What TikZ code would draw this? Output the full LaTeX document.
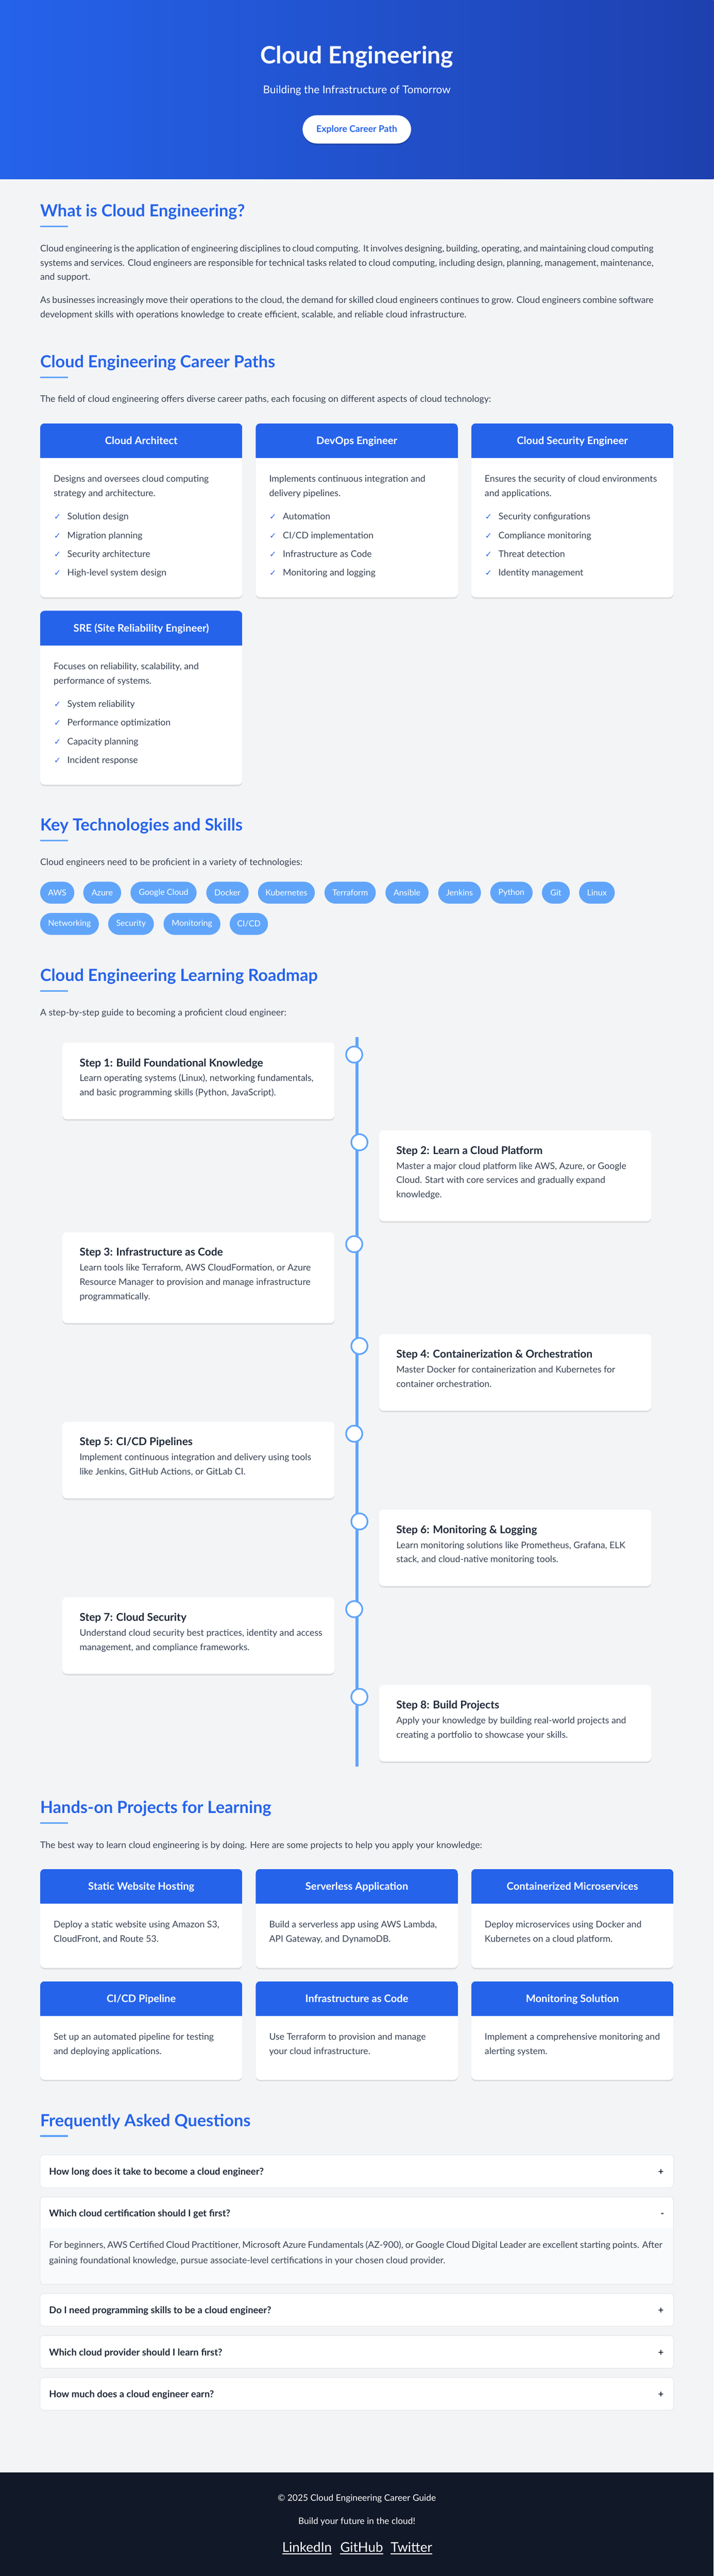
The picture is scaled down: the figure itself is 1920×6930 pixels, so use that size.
\documentclass[tikz,border=0pt]{standalone}
\usepackage{fontspec}
\setmainfont{Lato}
\newfontfamily\symfont{DejaVu Sans}
\usetikzlibrary{shadows}
\definecolor{brand}{HTML}{2563EB}
\definecolor{brandDark}{HTML}{1E40AF}
\definecolor{accent}{HTML}{60A5FA}
\definecolor{pagebg}{HTML}{F3F4F6}
\definecolor{bodytxt}{HTML}{374151}
\definecolor{darktxt}{HTML}{1F2937}
\definecolor{footbg}{HTML}{111827}
\definecolor{faqline}{HTML}{E5E7EB}
\definecolor{ansbg}{HTML}{F9FAFB}
\newcommand{\lines}[1]{\parbox[t]{1650pt}{#1}}
\newcommand{\pathcard}[4]{%
  \fill[white, rounded corners=12pt, cardshadow] (#1,#2) rectangle (#1+544,#4);
  \begin{scope}
    \clip[rounded corners=12pt] (#1,#2) rectangle (#1+544,#4);
    \fill[brand] (#1,#2) rectangle (#1+544,#3);
  \end{scope}}

\begin{document}
\begin{tikzpicture}[x=1pt, y=-1pt,
    cardshadow/.style={drop shadow={shadow xshift=0pt, shadow yshift=-4pt, opacity=0.10, fill=black}},
    heading/.style={anchor=base west, inner sep=0, text=brand, font=\fontsize{45}{54}\selectfont\bfseries},
    body/.style={anchor=base west, inner sep=0, text=bodytxt, font=\fontsize{24.5}{38.4}\selectfont},
    cardtitle/.style={anchor=base, inner sep=0, text=white, font=\fontsize{28}{32}\selectfont\bfseries},
    steptitle/.style={anchor=base west, inner sep=0, text=darktxt, font=\fontsize{29}{34}\selectfont\bfseries},
    check/.style={anchor=base west, inner sep=0, text=brand, font={\symfont\fontsize{22}{26}\selectfont}},
    tag/.style={fill=accent, rounded corners=29.5pt, minimum height=59pt, inner sep=0, text=white, font=\fontsize{22.3}{26}\selectfont},
    faqq/.style={anchor=base west, inner sep=0, text=darktxt, font=\fontsize{25.5}{30}\selectfont\bfseries},
    faqbox/.style={draw=faqline, line width=1.5pt, fill=white, rounded corners=9pt},
    foot/.style={anchor=base, inner sep=0, text=white, font=\fontsize{24}{30}\selectfont},
    footlink/.style={anchor=base, inner sep=0, text=white, font=\fontsize{36}{42}\selectfont}]
    \useasboundingbox (0,0) rectangle (1920,6930);
    \fill[pagebg] (0,0) rectangle (1920,6651);
    \shade[left color=brand, right color=brandDark] (0,0) rectangle (1920,482);
    \fill[footbg] (0,6651) rectangle (1920,6930);

    \node[anchor=base, inner sep=0, text=white, font=\fontsize{64}{72}\selectfont\bfseries] (title) at (960,171) {Cloud Engineering};
    \node[anchor=base, inner sep=0, text=white, font=\fontsize{29}{34}\selectfont] (subtitle) at (960,252) {Building the Infrastructure of Tomorrow};
    \node[fill=white, rounded corners=38pt, minimum width=292pt, minimum height=76pt, inner sep=0, text=brand, font=\fontsize{24.5}{30}\selectfont\bfseries, drop shadow={shadow xshift=0pt, shadow yshift=-4pt, opacity=0.18, fill=black}] (explore) at (960,348) {Explore Career Path};

    \node[heading] (hWhat) at (108,583) {What is Cloud Engineering?};
    \fill[accent] (108,607) rectangle (183,611.5);
    \node[body] (pWhat1) at (108,677) {\lines{Cloud engineering is the application of engineering disciplines to cloud computing. It involves designing, building, operating, and maintaining cloud computing\\systems and services. Cloud engineers are responsible for technical tasks related to cloud computing, including design, planning, management, maintenance,\\and support.}};
    \node[body] (pWhat2) at (108,816) {\lines{As businesses increasingly move their operations to the cloud, the demand for skilled cloud engineers continues to grow. Cloud engineers combine software\\development skills with operations knowledge to create efficient, scalable, and reliable cloud infrastructure.}};

    \node[heading] (hPaths) at (108,989) {Cloud Engineering Career Paths};
    \fill[accent] (108,1013) rectangle (183,1017.5);
    \node[body] (pPaths) at (108,1082) {The field of cloud engineering offers diverse career paths, each focusing on different aspects of cloud technology:};

    \pathcard{108}{1139}{1232}{1607}
    \node[cardtitle] (archT) at (380,1196) {Cloud Architect};
    \node[body] (archD) at (144,1297) {\lines{Designs and oversees cloud computing\\strategy and architecture.}};
    \foreach \i/\t in {0/Solution design,1/Migration planning,2/Security architecture,3/High-level system design}{
        \node[check] (archC\i) at (145,1398+50.4*\i) {✓};
        \node[body] (archI\i) at (181,1398+50.4*\i) {\t};
    }
    \pathcard{688}{1139}{1232}{1607}
    \node[cardtitle] (devT) at (960,1196) {DevOps Engineer};
    \node[body] (devD) at (724,1297) {\lines{Implements continuous integration and\\delivery pipelines.}};
    \foreach \i/\t in {0/Automation,1/{CI/CD implementation},2/Infrastructure as Code,3/Monitoring and logging}{
        \node[check] (devC\i) at (725,1398+50.4*\i) {✓};
        \node[body] (devI\i) at (761,1398+50.4*\i) {\t};
    }
    \pathcard{1268}{1139}{1232}{1607}
    \node[cardtitle] (secT) at (1540,1196) {Cloud Security Engineer};
    \node[body] (secD) at (1304,1297) {\lines{Ensures the security of cloud environments\\and applications.}};
    \foreach \i/\t in {0/Security configurations,1/Compliance monitoring,2/Threat detection,3/Identity management}{
        \node[check] (secC\i) at (1305,1398+50.4*\i) {✓};
        \node[body] (secI\i) at (1341,1398+50.4*\i) {\t};
    }
    \pathcard{108}{1643}{1736}{2111}
    \node[cardtitle] (sreT) at (380,1700) {SRE (Site Reliability Engineer)};
    \node[body] (sreD) at (144,1801) {\lines{Focuses on reliability, scalability, and\\performance of systems.}};
    \foreach \i/\t in {0/System reliability,1/Performance optimization,2/Capacity planning,3/Incident response}{
        \node[check] (sreC\i) at (145,1902+50.4*\i) {✓};
        \node[body] (sreI\i) at (181,1902+50.4*\i) {\t};
    }

    \node[heading] (hTech) at (108,2235) {Key Technologies and Skills};
    \fill[accent] (108,2259) rectangle (183,2263.5);
    \node[body] (pTech) at (108,2328) {Cloud engineers need to be proficient in a variety of technologies:};
    \foreach \nm/\cx/\w/\cy/\t in {aws/154/92/2401.5/AWS, azure/275/102/2401.5/Azure, gcp/440/178/2401.5/Google Cloud,
        docker/612/114/2401.5/Docker, kube/770.5/153/2401.5/Kubernetes, terra/942/138/2401.5/Terraform,
        ansible/1095/116/2401.5/Ansible, jenkins/1236.5/115/2401.5/Jenkins, python/1376/114/2401.5/Python,
        git/1495.5/75/2401.5/Git, linux/1606/96/2401.5/Linux, net/187/158/2485.5/Networking,
        security/352.5/123/2485.5/Security, monitor/516.5/153/2485.5/Monitoring, cicd/669.5/103/2485.5/{CI/CD}}
        \node[tag, minimum width=\w pt] (\nm) at (\cx,\cy) {\t};

    \node[heading] (hRoad) at (108,2640) {Cloud Engineering Learning Roadmap};
    \fill[accent] (108,2664) rectangle (183,2668.5);
    \node[body] (pRoad) at (108,2733) {A step-by-step guide to becoming a proficient cloud engineer:};
    \coordinate (lineTop) at (960.5,2790);
    \coordinate (lineEnd) at (960.5,4752);
    \draw[accent, line width=9pt] (lineTop) -- (lineEnd);
    \foreach \n/\top/\h/\s/\ttl/\desc in {
        1/2805/206/0/{Step 1: Build Foundational Knowledge}/{Learn operating systems (Linux), networking fundamentals,\\and basic programming skills (Python, JavaScript).},
        2/3041/244.4/1/{Step 2: Learn a Cloud Platform}/{Master a major cloud platform like AWS, Azure, or Google\\Cloud. Start with core services and gradually expand\\knowledge.},
        3/3315/244.4/0/{Step 3: Infrastructure as Code}/{Learn tools like Terraform, AWS CloudFormation, or Azure\\Resource Manager to provision and manage infrastructure\\programmatically.},
        4/3589/206/1/{Step 4: Containerization \& Orchestration}/{Master Docker for containerization and Kubernetes for\\container orchestration.},
        5/3825/206/0/{Step 5: CI/CD Pipelines}/{Implement continuous integration and delivery using tools\\like Jenkins, GitHub Actions, or GitLab CI.},
        6/4061/206/1/{Step 6: Monitoring \& Logging}/{Learn monitoring solutions like Prometheus, Grafana, ELK\\stack, and cloud-native monitoring tools.},
        7/4297/206/0/{Step 7: Cloud Security}/{Understand cloud security best practices, identity and access\\management, and compliance frameworks.},
        8/4533/206/1/{Step 8: Build Projects}/{Apply your knowledge by building real-world projects and\\creating a portfolio to showcase your skills.}}
    {
        \fill[white, rounded corners=12pt, cardshadow] (168+852*\s,\top) rectangle (900+852*\s,\top+\h);
        \node[steptitle] (stepT\n) at (214+852*\s,\top+64) {\ttl};
        \node[body] (stepD\n) at (214+852*\s,\top+104) {\lines{\desc}};
        \draw[accent, line width=4.5pt, fill=white] (953+14*\s,\top+32) circle (21.75pt);
    }

    \node[heading] (hProj) at (108,4878) {Hands-on Projects for Learning};
    \fill[accent] (108,4902) rectangle (183,4906.5);
    \node[body] (pProj) at (108,4972) {The best way to learn cloud engineering is by doing. Here are some projects to help you apply your knowledge:};
    \pathcard{108}{5028}{5121}{5294}
    \node[cardtitle] (webT) at (380,5085) {Static Website Hosting};
    \node[body] (webD) at (144,5186) {\lines{Deploy a static website using Amazon S3,\\CloudFront, and Route 53.}};
    \pathcard{688}{5028}{5121}{5294}
    \node[cardtitle] (slsT) at (960,5085) {Serverless Application};
    \node[body] (slsD) at (724,5186) {\lines{Build a serverless app using AWS Lambda,\\API Gateway, and DynamoDB.}};
    \pathcard{1268}{5028}{5121}{5294}
    \node[cardtitle] (ctrT) at (1540,5085) {Containerized Microservices};
    \node[body] (ctrD) at (1304,5186) {\lines{Deploy microservices using Docker and\\Kubernetes on a cloud platform.}};
    \pathcard{108}{5330}{5423}{5595}
    \node[cardtitle] (pipeT) at (380,5387) {CI/CD Pipeline};
    \node[body] (pipeD) at (144,5488) {\lines{Set up an automated pipeline for testing\\and deploying applications.}};
    \pathcard{688}{5330}{5423}{5595}
    \node[cardtitle] (iacT) at (960,5387) {Infrastructure as Code};
    \node[body] (iacD) at (724,5488) {\lines{Use Terraform to provision and manage\\your cloud infrastructure.}};
    \pathcard{1268}{5330}{5423}{5595}
    \node[cardtitle] (monT) at (1540,5387) {Monitoring Solution};
    \node[body] (monD) at (1304,5488) {\lines{Implement a comprehensive monitoring and\\alerting system.}};

    \node[heading] (hFaq) at (108,5720) {Frequently Asked Questions};
    \fill[accent] (108,5744) rectangle (183,5748.5);
    \draw[faqbox] (108,5797) rectangle (1812,5885);
    \node[faqq] (faq1) at (132,5851) {How long does it take to become a cloud engineer?};
    \node[faqq, anchor=base] (faq1s) at (1778,5851) {+};
    \draw[faqbox] (108,5910) rectangle (1812,6145);
    \begin{scope}
        \clip[rounded corners=9pt] (108,5910) rectangle (1812,6145);
        \fill[ansbg] (108,5995) rectangle (1812,6145);
    \end{scope}
    \draw[faqline, line width=1.5pt, rounded corners=9pt] (108,5910) rectangle (1812,6145);
    \node[faqq] (faq2) at (132,5963) {Which cloud certification should I get first?};
    \node[faqq, anchor=base] (faq2s) at (1782,5963) {-};
    \node[body, font=\fontsize{24.5}{40.8}\selectfont] (faq2a) at (132,6048) {\lines{For beginners, AWS Certified Cloud Practitioner, Microsoft Azure Fundamentals (AZ-900), or Google Cloud Digital Leader are excellent starting points. After\\gaining foundational knowledge, pursue associate-level certifications in your chosen cloud provider.}};
    \draw[faqbox] (108,6170) rectangle (1812,6258);
    \node[faqq] (faq3) at (132,6224) {Do I need programming skills to be a cloud engineer?};
    \node[faqq, anchor=base] (faq3s) at (1778,6224) {+};
    \draw[faqbox] (108,6283) rectangle (1812,6371);
    \node[faqq] (faq4) at (132,6337) {Which cloud provider should I learn first?};
    \node[faqq, anchor=base] (faq4s) at (1778,6337) {+};
    \draw[faqbox] (108,6396) rectangle (1812,6484);
    \node[faqq] (faq5) at (132,6450) {How much does a cloud engineer earn?};
    \node[faqq, anchor=base] (faq5s) at (1778,6450) {+};

    \node[foot] (copy) at (960,6728) {© 2025 Cloud Engineering Career Guide};
    \node[foot] (motto) at (960,6791) {Build your future in the cloud!};
    \node[footlink] (linkedin) at (826,6866) {LinkedIn};
    \node[footlink] (github) at (973,6866) {GitHub};
    \node[footlink] (twitter) at (1107,6866) {Twitter};
    \draw[white, line width=2.5pt] ([yshift=-4pt]linkedin.south west) -- ([yshift=-4pt]linkedin.south east);
    \draw[white, line width=2.5pt] ([yshift=-4pt]github.south west) -- ([yshift=-4pt]github.south east);
    \draw[white, line width=2.5pt] ([yshift=-4pt]twitter.south west) -- ([yshift=-4pt]twitter.south east);
\end{tikzpicture}
\end{document}
